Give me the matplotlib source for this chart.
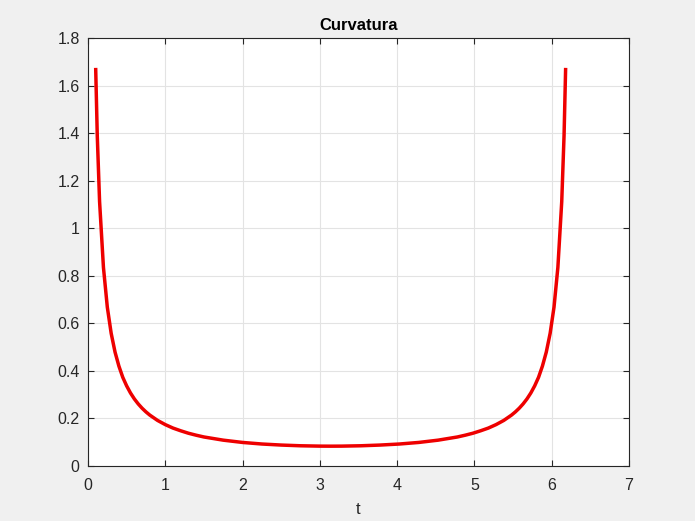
import matplotlib.pyplot as plt

# valores (curvatura vs t)
t = [0.10, 0.12, 0.15, 0.20, 0.25, 0.30, 0.35, 0.40, 0.45, 0.50, 0.55, 0.60, 0.65, 0.70,
     0.75, 0.80, 0.90, 1.00, 1.10, 1.20, 1.30, 1.40, 1.50, 1.75, 2.00, 2.25, 2.50, 2.75,
     3.00, 3.14,
     3.28, 3.53, 3.78, 4.03, 4.28, 4.53, 4.78, 4.88, 4.98, 5.08, 5.18, 5.28, 5.38, 5.48,
     5.53, 5.58, 5.63, 5.68, 5.73, 5.78, 5.83, 5.88, 5.93, 5.98, 6.03, 6.08, 6.13, 6.16, 6.18]
k = [1.667, 1.390, 1.112, 0.835, 0.668, 0.558, 0.479, 0.420, 0.373, 0.337, 0.307, 0.282, 0.261, 0.243,
     0.2275, 0.214, 0.1916, 0.174, 0.1594, 0.148, 0.1377, 0.1294, 0.122, 0.1086, 0.099, 0.0924, 0.088, 0.085,
     0.0835, 0.0833,
     0.0835, 0.085, 0.088, 0.0924, 0.099, 0.1086, 0.122, 0.1294, 0.1377, 0.148, 0.1594, 0.174, 0.1916, 0.214,
     0.2275, 0.243, 0.261, 0.282, 0.307, 0.337, 0.373, 0.420, 0.479, 0.558, 0.668, 0.835, 1.112, 1.390, 1.667]

plt.rcParams['font.family'] = ['Liberation Sans', 'DejaVu Sans']

fig = plt.figure(figsize=(6.95, 5.21), dpi=100, facecolor='#f0f0f0')
ax = fig.add_axes([0.1266, 0.1056, 0.7784, 0.8215])

ax.plot(t, k, color='#ee0000', linewidth=2.5)

ax.set_xlim(0, 7)
ax.set_ylim(0, 1.8)
ax.set_xticks(range(0, 8))
ax.set_yticks([0, 0.2, 0.4, 0.6, 0.8, 1, 1.2, 1.4, 1.6, 1.8])
ax.set_yticklabels(['0', '0.2', '0.4', '0.6', '0.8', '1', '1.2', '1.4', '1.6', '1.8'])

ax.grid(True, color='#e3e3e3', linewidth=0.8)
ax.set_axisbelow(True)
ax.tick_params(direction='in', top=True, right=True, labelsize=11.5,
               colors='#262626', length=4, width=0.8)
ax.tick_params(axis='x', pad=9)
ax.tick_params(axis='y', pad=6)
for s in ax.spines.values():
    s.set_color('#262626')
    s.set_linewidth(0.8)

ax.set_title("Curvatura", fontsize=12, fontweight='bold', color='black')
ax.set_xlabel("t", fontsize=12, color='#262626', labelpad=6)

fig.savefig("out.png", dpi=100, facecolor=fig.get_facecolor())
